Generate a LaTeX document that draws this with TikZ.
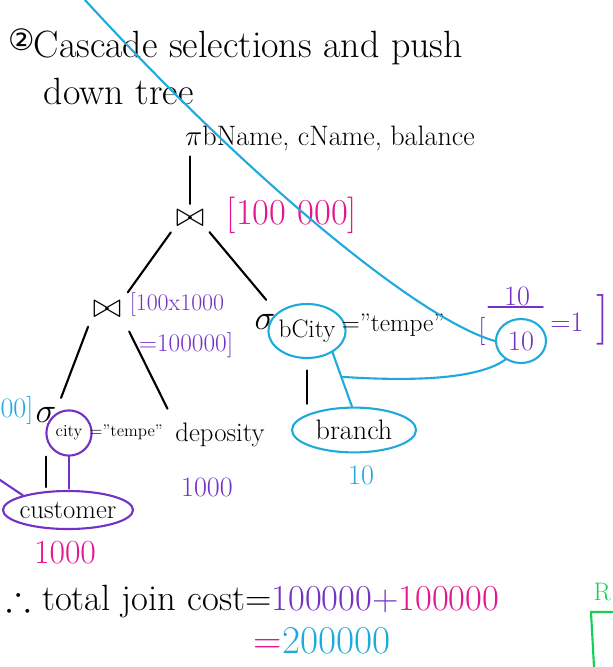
\documentclass[tikz,border=0pt]{standalone}
\usepackage{amssymb}
\usepackage{fontspec}
\newfontfamily\symfont{DejaVu Sans}
\usetikzlibrary{shapes.geometric,positioning,calc}

\definecolor{inkpink}{HTML}{E3178F}
\definecolor{inkpurple}{HTML}{7432C4}
\definecolor{inkblue}{HTML}{20AADC}
\definecolor{inkgreen}{HTML}{14D155}

\tikzset{
    hand/.style={font=\fontsize{20}{24}\selectfont,inner sep=1pt},
    ink/.style={line width=1.5pt,line cap=round},
    ring/.style={ellipse,draw,line width=1.5pt,inner sep=0pt},
}

\begin{document}
\begin{tikzpicture}[x=0.025cm,y=-0.025cm]
\useasboundingbox (0,0) rectangle (613,667);

%heading
\node[inner sep=0] at (22,40)(circ){\symfont\fontsize{21}{24}\selectfont ②};
\node[hand,font=\fontsize{27}{30}\selectfont,anchor=base west] at (32,57)(head){Cascade selections and push};
\node[hand,font=\fontsize{27}{30}\selectfont,anchor=base west] at (42,104)(head2){down tree};

%operators
\node[hand] at (330,138)(proj){$\pi$bName, cName, balance};
\node[hand,font=\fontsize{26}{30}\selectfont] at (190,218)(join1){$\bowtie$};
\node[hand,font=\fontsize{26}{30}\selectfont] at (107,309)(join2){$\bowtie$};
\node[hand,font=\fontsize{28}{30}\selectfont] at (265,322)(sigb){$\sigma$};
\node[hand,font=\fontsize{28}{30}\selectfont] at (46,415)(sigc){$\sigma$};

%relations and conditions
\node[ring,draw=inkblue,minimum width=1.93cm,minimum height=1.35cm,label={[hand,font=\fontsize{18}{20}\selectfont]center:bCity}] at (307,331)(bcity){};
\node[hand,font=\fontsize{18}{20}\selectfont,anchor=west] at (340,325)(tempeb){="tempe"};
\node[ring,draw=inkpurple,minimum width=1.13cm,minimum height=1.13cm,label={[hand,font=\fontsize{12}{14}\selectfont]center:city}] at (69,433)(city){};
\node[hand,font=\fontsize{12}{14}\selectfont,anchor=west] at (88,432)(tempec){="tempe"};
\node[hand,font=\fontsize{19}{22}\selectfont] at (220,435)(dep){deposity};
\node[ring,draw=inkblue,minimum width=3.1cm,minimum height=1.12cm,label={[hand]center:branch}] at (354,430)(branch){};
\node[ring,draw=inkpurple,minimum width=3.25cm,minimum height=0.95cm,label={[hand,font=\fontsize{19}{22}\selectfont]center:customer}] at (68,510)(cust){};

%sizes
\foreach \nm/\cl/\s/\x/\y/\t in {cost1/inkpink/26/292/215/{[100 000]},
    cost2/inkpurple/17/177/305/{[100x1000},
    cost3/inkpurple/18/186/345/{=100000]},
    nleft/inkblue/20/17/410/{00]},
    ndep/inkpurple/20/207/487/1000,
    ncust/inkpink/24/65/553/1000,
    nbr/inkblue/20/361/475/10}{
    \node[hand,font=\fontsize{\s}{\s}\selectfont,text=\cl] at (\x,\y)(\nm){\t};
}

%selectivity
\node[hand,text=inkpurple] at (517,296)(num){10};
\node[ring,draw=inkblue,minimum width=1.25cm,minimum height=1.1cm,label={[hand,text=inkpurple]center:10}] at (521,341)(den){};
\node[hand,text=inkpurple] at (482,331)(lbr){[};
\node[hand,text=inkpurple] at (567,322)(eqone){=1};
\node[hand,font=\fontsize{36}{40}\selectfont,text=inkpurple] at (603,320)(rbr){]};
\draw[ink,inkpurple] ([xshift=-10pt]num.south west) -- ([xshift=8pt]num.south east);

%edges
\draw[ink,shorten <=3pt,shorten >=3pt] (join1.north |- proj.south) -- (join1.north);
\draw[ink,shorten <=4pt,shorten >=6pt] (join1.south west) -- (join2.north east);
\draw[ink,shorten <=4pt,shorten >=12pt] (join1.south east) -- (sigb.north east);
\draw[ink,shorten <=6pt,shorten >=6pt] (join2.south west) -- (sigc.north east);
\draw[ink,shorten <=10pt,shorten >=10pt] (join2.south east) -- (dep.north west);
\draw[ink,shorten <=8pt,shorten >=2pt] (bcity.south) -- (bcity.south |- branch.north);
\draw[ink,shorten >=2pt] (sigc |- city.south) -- (sigc |- cust.north);
\draw[ink,inkpurple,shorten >=1pt] (city.south) -- (city.south |- cust.north);

%blue marks
\draw[ink,inkblue] (bcity.-40) -- (branch.95);
\coordinate (fork) at ($(bcity.-40)!0.45!(branch.95)$);
\draw[ink,inkblue] (fork) .. controls (420,382) and (480,378) .. (den.-130);
\coordinate (pentop) at (85,0);
\draw[ink,inkblue] (pentop) .. controls (250,180) and (420,320) .. (den.west);
\coordinate (pleft) at (0,480);
\draw[ink,inkpurple] (pleft) -- (cust.162);

%total
\node[hand,font=\fontsize{26}{30}\selectfont,anchor=base west] at (5,610)(total){$\therefore$ total join cost=\textcolor{inkpurple}{100000+}\textcolor{inkpink}{100000}};
\node[hand,font=\fontsize{28}{30}\selectfont,anchor=base west] at (252,653)(sum){\textcolor{inkpink}{=}\textcolor{inkblue}{200000}};

%next part
\node[hand,font=\fontsize{18}{20}\selectfont,text=inkgreen,anchor=west] at (592,592)(rmark){R};
\coordinate (gright) at (613,612);
\coordinate (gcorner) at (591,612);
\coordinate (gfoot) at (594,667);
\draw[ink,inkgreen] (gright) -- (gcorner) -- (gfoot);

\end{tikzpicture}
\end{document}
